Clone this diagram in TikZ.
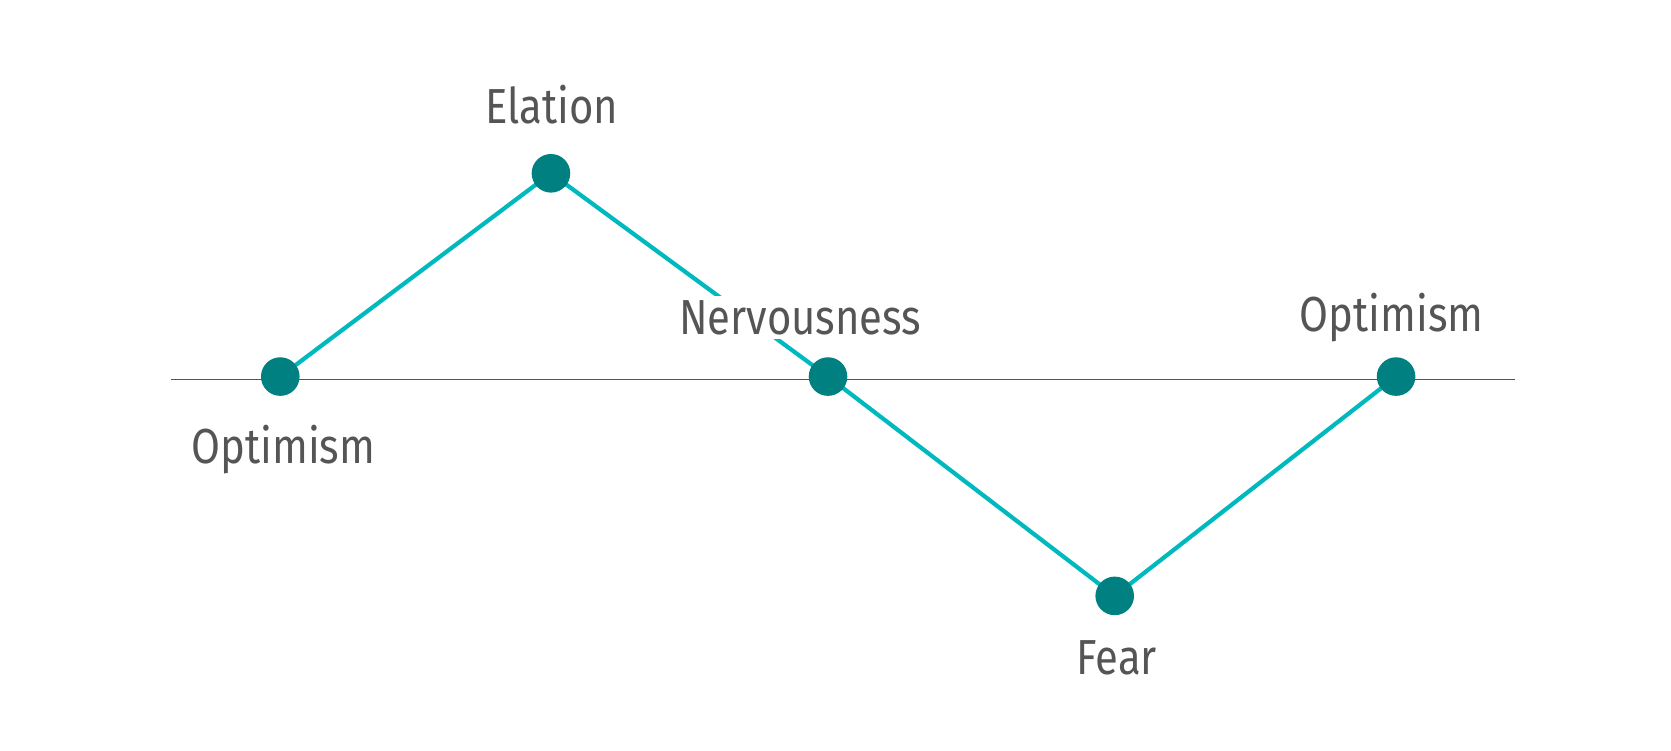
\documentclass[tikz,border=0pt]{standalone}
\usepackage{fontspec}
\setmainfont[FakeStretch=0.85]{Fira Sans}
\definecolor{lineteal}{RGB}{0,185,190}
\definecolor{dotteal}{RGB}{0,128,128}
\definecolor{txtgray}{RGB}{85,85,85}
\begin{document}
\begin{tikzpicture}[x=0.5348pt,y=-0.5348pt,
  dot/.style={circle,fill=dotteal,minimum size=19.3pt,inner sep=0pt},
  lbl/.style={text=txtgray,font=\fontsize{24.6}{29}\selectfont,inner sep=1pt}]
\useasboundingbox (0,0) rectangle (1562,702);
\coordinate (a1) at (160,355);
\coordinate (a2) at (1416,355);
\draw[txtgray,line width=0.7pt] (a1) -- (a2);
\coordinate (p1) at (262,352);
\coordinate (p2) at (515,162);
\coordinate (p3) at (774,352);
\coordinate (p4) at (1042,557);
\coordinate (p5) at (1305,352);
\draw[lineteal,line width=2.1pt] (p1) -- (p2) -- (p3) -- (p4) -- (p5);
\node[lbl] (le) at (516,98) {Elation};
\node[lbl,fill=white,inner sep=2.2pt] (ln) at (748,297) {Nervousness};
\node[lbl] (lo2) at (1301,297) {Optimism};
\node[lbl] (lo1) at (265,420) {Optimism};
\node[lbl] (lf) at (1044,615) {Fear};
\foreach \p in {p1,p2,p3,p4,p5} \node[dot] (d\p) at (\p) {};
\end{tikzpicture}
\end{document}
